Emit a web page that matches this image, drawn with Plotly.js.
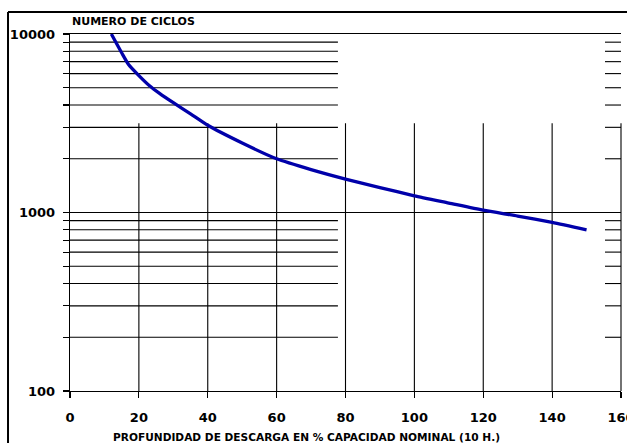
<!DOCTYPE html>
<html>
<head>
<meta charset="utf-8">
<script src="https://cdn.plot.ly/plotly-3.0.1.min.js"></script>
<style>html,body{margin:0;padding:0;background:#fff}#chart{width:627px;height:443px}</style>
</head>
<body>
<div id="chart"></div>
<script>
// Data
const depth  = [12, 15, 17, 20, 23, 26, 30, 35, 40, 50, 60, 70, 80, 90, 100, 110, 120, 130, 140, 150];
const cycles = [10000, 7850, 6750, 5850, 5150, 4650, 4120, 3570, 3080, 2450, 2000, 1740, 1540, 1380, 1240, 1130, 1030, 955, 880, 800];

// Axis ticks / grid values
const xTicks = [0, 20, 40, 60, 80, 100, 120, 140, 160];
const yMajor = [100, 1000, 10000];
const yMinor = [200, 300, 400, 500, 600, 700, 800, 900, 2000, 3000, 4000, 5000, 6000, 7000, 8000, 9000];
const yTickLabels = ['100', '1000', '10000'];
const yTitle = 'NUMERO DE CICLOS';
const xTitle = 'PROFUNDIDAD DE DESCARGA EN % CAPACIDAD NOMINAL (10 H.)';

const yAll = yMinor.concat(yMajor).sort((a, b) => a - b);
const yText = yAll.map(v => { const i = yMajor.indexOf(v); return i >= 0 ? yTickLabels[i] : ''; });

const gridLeftEnd = 77.8, gridRightStart = 155.35, vertTop = 3162;
const ln = {color: '#000', width: 1.1};
const shapes = [];
// minor horizontal lines, broken in the middle
yMinor.forEach(v => {
  shapes.push({type: 'line', xref: 'x', yref: 'y', x0: 0, x1: gridLeftEnd, y0: v, y1: v, line: ln, layer: 'below'});
  shapes.push({type: 'line', xref: 'x', yref: 'y', x0: gridRightStart, x1: 160, y0: v, y1: v, line: ln, layer: 'below'});
});
// 1000 full line
shapes.push({type: 'line', xref: 'x', yref: 'y', x0: 0, x1: 160, y0: 1000, y1: 1000, line: ln, layer: 'below'});
// vertical lines
xTicks.slice(1, -1).forEach(v => {
  shapes.push({type: 'line', xref: 'x', yref: 'y', x0: v, x1: v, y0: 100, y1: vertTop, line: ln, layer: 'below'});
});
shapes.push({type: 'line', xref: 'paper', yref: 'y', x0: 1, x1: 1, y0: 100, y1: vertTop, line: ln, layer: 'below'});
// outer frame
shapes.push({type: 'line', xref: 'paper', yref: 'paper', x0: -0.1125, x1: -0.1125, y0: 1.0616, y1: -0.3, line: {color: '#000', width: 2}});
shapes.push({type: 'line', xref: 'paper', yref: 'paper', x0: -0.1125, x1: 1.2, y0: 1.0616, y1: 1.0616, line: {color: '#000', width: 2}});

const tickFont = {family: 'DejaVu Sans', size: 13, color: '#000', weight: 'bold'};

const data = [{
  x: depth, y: cycles, type: 'scatter', mode: 'lines',
  line: {color: '#0000AA', width: 3.3, shape: 'spline', smoothing: 0.6},
  hoverinfo: 'skip', cliponaxis: false
}];

const layout = {
  width: 627, height: 443,
  margin: {l: 70, r: 6, t: 34, b: 52},
  paper_bgcolor: '#fff', plot_bgcolor: '#fff',
  showlegend: false,
  xaxis: {
    range: [0, 160], tickvals: xTicks, ticktext: xTicks.map(String),
    ticks: 'outside', ticklen: 6, tickwidth: 1.1, tickcolor: '#000',
    showline: true, linecolor: '#000', linewidth: 1.1, mirror: true,
    showgrid: false, zeroline: false, tickfont: tickFont, ticklabelstandoff: 8,
    ticklabeloverflow: 'allow'
  },
  yaxis: {
    type: 'log', range: [2, 4], tickvals: yAll, ticktext: yText,
    ticks: 'outside', ticklen: 6, tickwidth: 1.1, tickcolor: '#000',
    showline: true, linecolor: '#000', linewidth: 1.3,
    showgrid: false, zeroline: false, tickfont: tickFont, ticklabelstandoff: 5,
    ticklabeloverflow: 'allow'
  },
  shapes: shapes,
  annotations: [
    {xref: 'paper', yref: 'paper', x: 0, y: 1, xanchor: 'left', yanchor: 'middle', yshift: 12.5,
     text: yTitle, showarrow: false, font: {family: 'DejaVu Sans', size: 11, color: '#000', weight: 'bold'}},
    {xref: 'paper', yref: 'paper', x: 0.429, y: 0, xanchor: 'center', yanchor: 'middle', yshift: -45.5,
     text: xTitle, showarrow: false, font: {family: 'DejaVu Sans', size: 10.6, color: '#000', weight: 'bold'}}
  ]
};

Plotly.newPlot('chart', data, layout, {staticPlot: true, displayModeBar: false});
</script>
</body>
</html>
